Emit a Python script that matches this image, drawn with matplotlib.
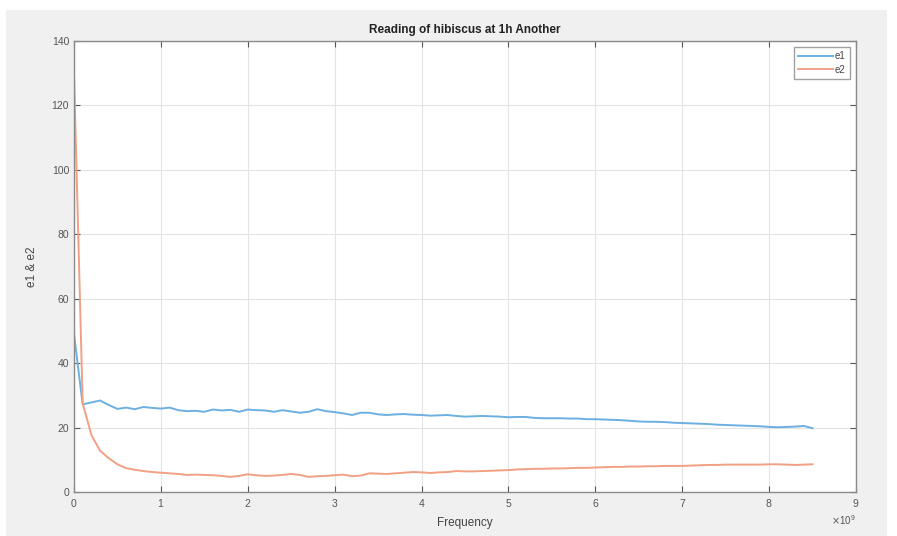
import numpy as np
import matplotlib.pyplot as plt
from matplotlib.patches import Rectangle

# data (frequency grid step 0.1e9 Hz)
freq = np.linspace(0, 8.5e9, 86)

e1 = [49.0, 27.2, 27.8, 28.4, 27.0, 25.8, 26.2, 25.7, 26.4, 26.1,
      25.9, 26.2, 25.4, 25.1, 25.2, 24.9, 25.6, 25.3, 25.5, 24.9,
      25.6, 25.4, 25.3, 24.9, 25.4, 25.0, 24.6, 24.9, 25.7, 25.1,
      24.8, 24.4, 23.9, 24.6, 24.6, 24.1, 23.9, 24.1, 24.2, 24.0,
      23.9, 23.7, 23.8, 23.9, 23.6, 23.4, 23.5, 23.6, 23.5, 23.4,
      23.2, 23.3, 23.3, 23.0, 22.9, 22.9, 22.9, 22.8, 22.8, 22.6,
      22.6, 22.5, 22.4, 22.3, 22.1, 21.9, 21.8, 21.8, 21.7, 21.5,
      21.4, 21.3, 21.2, 21.1, 20.9, 20.8, 20.7, 20.6, 20.5, 20.4,
      20.2, 20.1, 20.2, 20.3, 20.5, 19.8]

e2 = [130.0, 27.5, 17.7, 12.8, 10.5, 8.6, 7.4, 6.9, 6.5, 6.2,
      6.0, 5.8, 5.6, 5.3, 5.4, 5.3, 5.2, 5.0, 4.7, 5.0,
      5.5, 5.2, 5.0, 5.1, 5.3, 5.6, 5.3, 4.7, 4.9, 5.0,
      5.2, 5.4, 4.9, 5.1, 5.8, 5.7, 5.6, 5.8, 6.0, 6.2,
      6.1, 5.9, 6.1, 6.2, 6.5, 6.4, 6.4, 6.5, 6.6, 6.7,
      6.8, 7.0, 7.1, 7.2, 7.2, 7.3, 7.3, 7.4, 7.5, 7.5,
      7.6, 7.7, 7.8, 7.8, 7.9, 7.9, 8.0, 8.0, 8.1, 8.1,
      8.1, 8.2, 8.3, 8.4, 8.4, 8.5, 8.5, 8.5, 8.5, 8.5,
      8.6, 8.6, 8.5, 8.4, 8.5, 8.6]

x_ticks = [0, 1e9, 2e9, 3e9, 4e9, 5e9, 6e9, 7e9, 8e9, 9e9]
y_ticks = [0, 20, 40, 60, 80, 100, 120, 140]

plt.rcParams['font.family'] = ['Liberation Sans', 'DejaVu Sans']

fig = plt.figure(figsize=(8.97, 5.36), dpi=100, facecolor='white')
# grey window background like the MATLAB figure
fig.add_artist(Rectangle((6 / 897, 0), 881 / 897, 526 / 536,
                         transform=fig.transFigure, facecolor='#f0f0f0',
                         edgecolor='none', zorder=-10))

ax = fig.add_axes([74 / 897, 44 / 536, 782 / 897, 451 / 536])
ax.set_facecolor('white')

ax.plot(freq, e1, color='#6cb0e2', linewidth=1.4, label='e1')
ax.plot(freq, e2, color='#f2a083', linewidth=1.4, label='e2')

ax.set_xlim(0, 9e9)
ax.set_ylim(0, 140)
ax.set_xticks(x_ticks)
ax.set_yticks(y_ticks)
ax.ticklabel_format(axis='x', style='sci', scilimits=(0, 0), useMathText=True)
ax.xaxis.get_offset_text().set_fontsize(7)
ax.xaxis.get_offset_text().set_color('#555555')

ax.grid(True, color='#e4e4e4', linewidth=0.8)
ax.set_axisbelow(True)
ax.tick_params(direction='in', top=True, right=True, length=4,
               labelsize=7.5, colors='#555555')
for sp in ax.spines.values():
    sp.set_color('#8a8a8a')
    sp.set_linewidth(1.0)

ax.set_title('Reading of hibiscus at 1h Another', fontsize=8.5, fontweight='bold',
             color='#222222', pad=6)
ax.set_xlabel('Frequency', fontsize=8.5, color='#444444', labelpad=6)
ax.set_ylabel('e1 & e2', fontsize=8.5, color='#444444', labelpad=10)

leg = ax.legend(loc='upper right', fontsize=7, fancybox=False, frameon=True,
                handlelength=3.6, handletextpad=0.2, borderpad=0.45,
                labelspacing=0.35, borderaxespad=0.6)
leg.get_frame().set_edgecolor('#8a8a8a')
leg.get_frame().set_linewidth(1.0)
for t in leg.get_texts():
    t.set_color('#444444')

plt.savefig('out.png', dpi=100, facecolor=fig.get_facecolor())
